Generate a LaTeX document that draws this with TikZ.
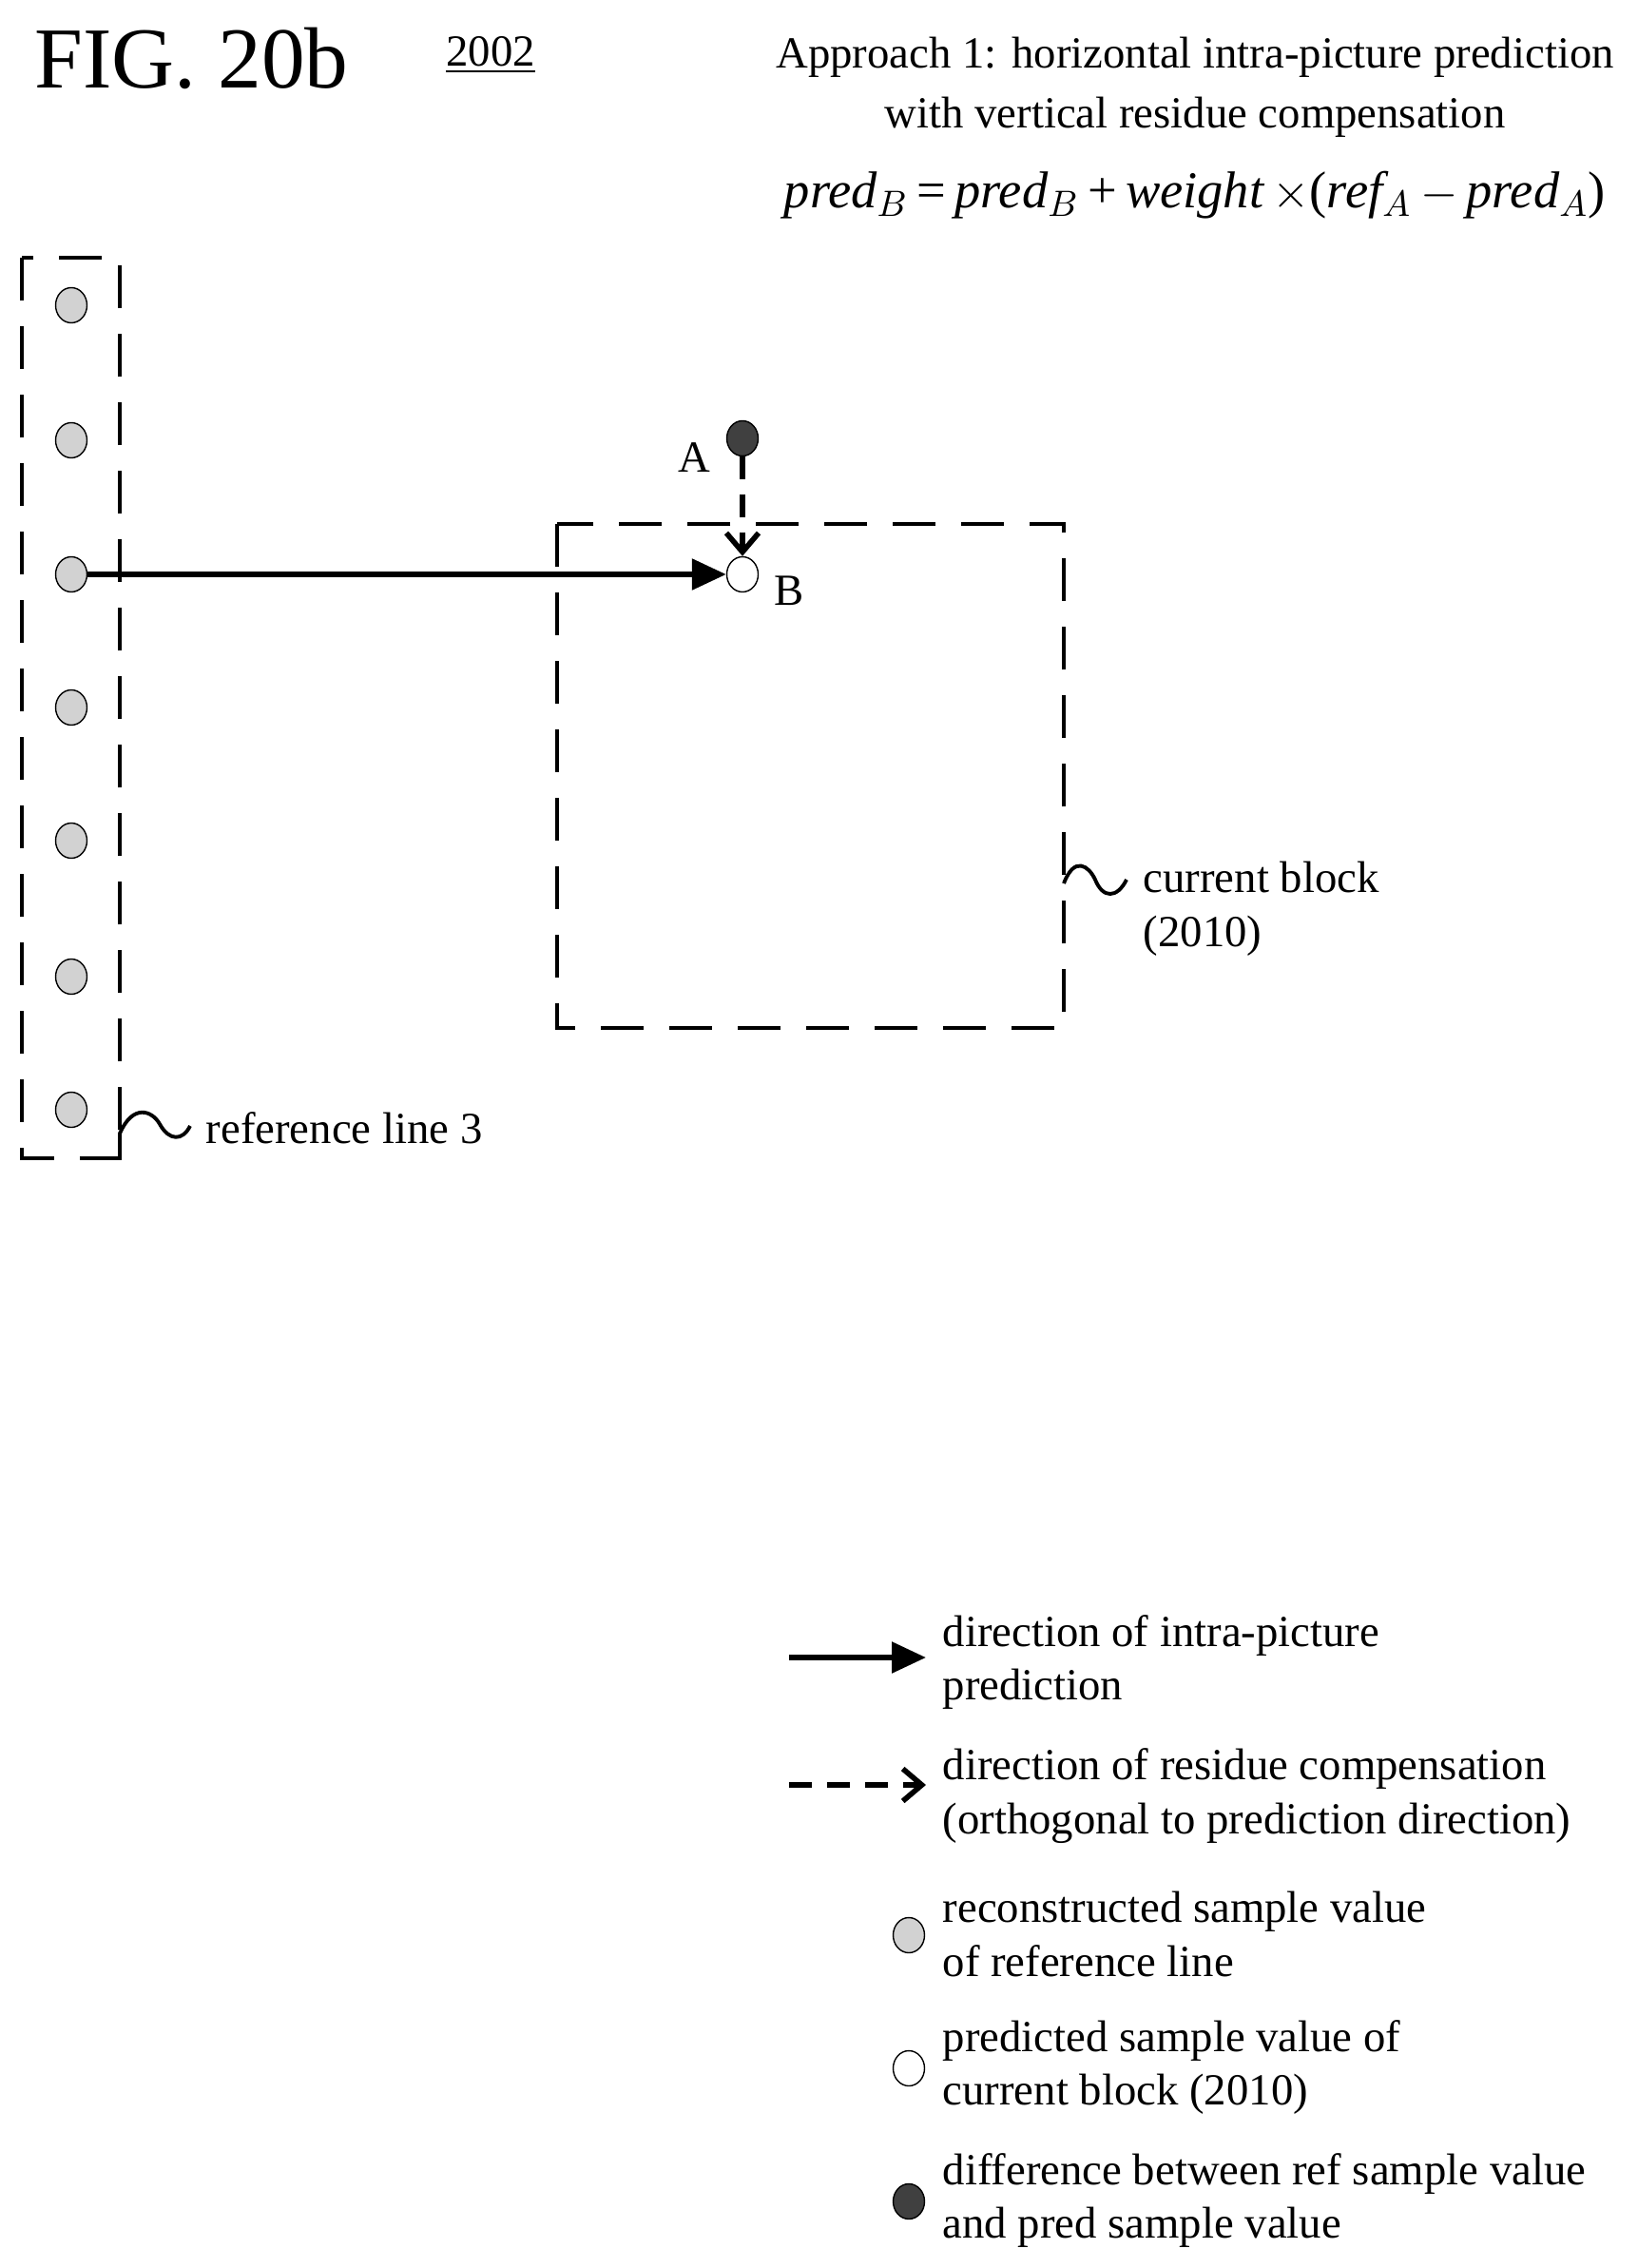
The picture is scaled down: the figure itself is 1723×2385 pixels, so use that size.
\documentclass[tikz,border=0pt]{standalone}
\usepackage{fontspec}
\setmainfont{Liberation Serif}
\usetikzlibrary{positioning,arrows.meta,shapes.geometric}
\begin{document}
\begin{tikzpicture}[x=0.1mm,y=-0.1mm,
  txt/.style={anchor=west,align=left,font=\fontsize{13.3}{16.2}\selectfont,inner sep=0pt},
  lbl/.style={font=\fontsize{13.3}{16}\selectfont,inner sep=0pt},
  dot/.style={draw,line width=0.4pt,minimum width=3.3mm,minimum height=3.7mm,inner sep=0pt,shape=ellipse},
  longdash/.style={line width=1.1pt,dash pattern=on 4.5mm off 2.7mm},
  pred/.style={line width=1.6pt,-{Triangle[length=3.6mm,width=3.2mm]}},
  resid/.style={line width=1.6pt,dash pattern=on 2.4mm off 1.6mm,-{Straight Barb[length=2mm,width=3.4mm,line width=1.6pt]}}]
\useasboundingbox (0,0) rectangle (1723,2385);

% header
\node (fig) [anchor=west,font=\fontsize{26}{30}\selectfont,inner sep=0pt] at (36,61) {FIG. 20b};
\node (num) [lbl] at (516,58) {\underline{2002}};
\node (title) [lbl,align=center] at (1257,92) {Approach 1: horizontal intra-picture prediction\\[2pt]with vertical residue compensation};
\node (eq) [font=\fontsize{15.5}{18}\selectfont,inner sep=0pt] at (1257,205)
  {\itshape pred$_B$\,\upshape=\,\itshape pred$_B$\,\upshape+\,\itshape weight\,\upshape$\times$(\itshape ref$_A$\,\upshape$-$\,\itshape pred$_A$\upshape)};

% reference line 3
\draw [longdash] (23,271) rectangle (126,1218);
\foreach \i/\y in {1/321,2/463,3/604,4/744,5/884,6/1027,7/1167}
  \node (r\i) [dot,fill=gray!35] at (75,\y) {};
\draw [line width=1.1pt] (126,1215) -- (126,1192) .. controls (140,1160) and (160,1168) .. (168,1182)
  .. controls (178,1200) and (192,1200) .. (200,1184);
\node (reflbl) [txt] at (216,1186) {reference line 3};

% current block
\draw [longdash] (586,551) rectangle (1119,1081);
\draw [line width=1.1pt] (1119,929) .. controls (1130,900) and (1145,910) .. (1152,925)
  .. controls (1160,945) and (1175,945) .. (1185,925);
\node (blklbl) [txt] at (1202,956) {current block\\(2010)};

% samples A and B
\node (A) [dot,fill=black!75] at (781,461) {};
\node (B) [dot,fill=white] at (781,604) {};
\node (Albl) [lbl] at (730,481) {A};
\node (Blbl) [lbl] at (830,621) {B};
\draw [pred] (r3.east) -- (B.west);
\draw [resid] (A.south) -- (B.north);

% legend
\coordinate (l1a) at (830,1743); \coordinate (l1b) at (974,1743);
\draw [pred] (l1a) -- (l1b);
\node (t1) [txt] at (991,1748) {direction of intra-picture\\prediction};
\coordinate (l2a) at (830,1877); \coordinate (l2b) at (974,1877);
\draw [resid] (l2a) -- (l2b);
\node (t2) [txt] at (991,1889) {direction of residue compensation\\(orthogonal to prediction direction)};
\node (d3) [dot,fill=gray!35] at (956,2035) {};
\node (t3) [txt] at (991,2034) {reconstructed sample value\\of reference line};
\node (d4) [dot,fill=white] at (956,2175) {};
\node (t4) [txt] at (991,2174) {predicted sample value of\\current block (2010)};
\node (d5) [dot,fill=black!75] at (956,2315) {};
\node (t5) [txt] at (991,2314) {difference between ref sample value\\and pred sample value};
\end{tikzpicture}
\end{document}
